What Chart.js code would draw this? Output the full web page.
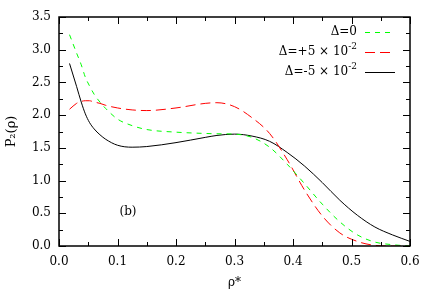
<!DOCTYPE html>
<html>
<head>
<meta charset="utf-8">
<script src="https://cdn.jsdelivr.net/npm/chart.js@4.4.0/dist/chart.umd.min.js"></script>
<style>
  html, body { margin: 0; padding: 0; background: #fff; }
  #wrap { width: 436px; height: 305px; }
</style>
</head>
<body>
<div id="wrap"><canvas id="chart"></canvas></div>
<script>
// rho* grid shared by the three curves
const rho = [0.018, 0.03, 0.038, 0.045, 0.052, 0.06, 0.07, 0.08, 0.1, 0.125, 0.15, 0.2, 0.25, 0.27, 0.3, 0.33, 0.36, 0.39, 0.42, 0.45, 0.48, 0.51, 0.54, 0.57, 0.6];

const p2Zero  = [3.23, 2.95, 2.77, 2.58, 2.45, 2.32, 2.20, 2.10, 1.94, 1.84, 1.78, 1.74, 1.72, 1.715, 1.71, 1.66, 1.51, 1.25, 0.95, 0.64, 0.37, 0.17, 0.06, 0.02, 0.00];
const p2Plus  = [2.09, 2.18, 2.21, 2.22, 2.22, 2.20, 2.18, 2.15, 2.11, 2.08, 2.07, 2.11, 2.18, 2.19, 2.13, 1.96, 1.72, 1.32, 0.85, 0.46, 0.20, 0.07, 0.01, 0.00, 0.00];
const p2Minus = [2.79, 2.44, 2.20, 2.02, 1.89, 1.79, 1.70, 1.63, 1.54, 1.51, 1.52, 1.58, 1.66, 1.69, 1.71, 1.68, 1.60, 1.43, 1.22, 0.97, 0.70, 0.47, 0.29, 0.17, 0.07];

const legendBase = ['\u0394=0', '\u0394=+5 \u00d7 10', '\u0394=-5 \u00d7 10'];
const legendExp  = ['', '-2', '-2'];
const legendLen  = [30, 25, 30];

const FONT = '"DejaVu Serif", "Liberation Serif", serif';

function pts(ys) {
    return rho.map((x, i) => ({x: x, y: ys[i]}));
}

// frame, inward ticks on all four sides, legend with exponents, "(b)" tag
const decor = {
    id: 'decor',
    afterDraw(chart) {
        const ctx = chart.ctx;
        const a = chart.chartArea;
        const xs = chart.scales.x, ys = chart.scales.y;
        ctx.save();
        ctx.strokeStyle = '#000';
        ctx.lineWidth = 1.5;
        ctx.strokeRect(a.left, a.top, a.right - a.left, a.bottom - a.top);

        ctx.lineWidth = 1;
        ctx.beginPath();
        for (let k = 0; k <= 12; k++) {
            const px = Math.round(xs.getPixelForValue(k * 0.05)) + 0.5;
            const len = (k % 2 === 0) ? 7 : 4;
            ctx.moveTo(px, a.bottom); ctx.lineTo(px, a.bottom - len);
            ctx.moveTo(px, a.top); ctx.lineTo(px, a.top + len);
        }
        for (let k = 0; k <= 14; k++) {
            const py = Math.round(ys.getPixelForValue(k * 0.25)) + 0.5;
            const len = (k % 2 === 0) ? 7 : 4;
            ctx.moveTo(a.left, py); ctx.lineTo(a.left + len, py);
            ctx.moveTo(a.right, py); ctx.lineTo(a.right - len, py);
        }
        ctx.stroke();

        // legend
        const rightText = 357, lineX0 = 365;
        const rowY = [32, 52, 72];
        ctx.fillStyle = '#000';
        ctx.textBaseline = 'middle';
        chart.data.datasets.forEach((ds, i) => {
            const y = rowY[i];
            const expFont = '9px ' + FONT;
            let expW = 0;
            if (legendExp[i]) {
                ctx.font = expFont;
                expW = ctx.measureText(legendExp[i]).width;
            }
            ctx.font = '12px ' + FONT;
            ctx.textAlign = 'right';
            ctx.fillText(legendBase[i], rightText - expW, y);
            if (legendExp[i]) {
                ctx.font = expFont;
                ctx.textAlign = 'left';
                ctx.fillText(legendExp[i], rightText - expW, y - 5);
            }
            ctx.strokeStyle = ds.borderColor;
            ctx.lineWidth = 1;
            ctx.setLineDash(ds.borderDash || []);
            ctx.beginPath();
            ctx.moveTo(lineX0, y + 0.5); ctx.lineTo(lineX0 + legendLen[i], y + 0.5);
            ctx.stroke();
            ctx.setLineDash([]);
        });

        ctx.font = '12px ' + FONT;
        ctx.textAlign = 'center';
        ctx.fillStyle = '#000';
        ctx.fillText('(b)', xs.getPixelForValue(0.118), ys.getPixelForValue(0.52));
        ctx.restore();
    }
};

const chart = new Chart(document.getElementById('chart'), {
    type: 'line',
    data: {
        datasets: [
            {label: legendBase[0], data: pts(p2Zero), borderColor: 'rgb(0,255,0)', borderDash: [5, 5], borderWidth: 1},
            {label: legendBase[1] + legendExp[1], data: pts(p2Plus), borderColor: 'rgb(255,0,0)', borderDash: [10, 5], borderWidth: 1},
            {label: legendBase[2] + legendExp[2], data: pts(p2Minus), borderColor: 'rgb(0,0,0)', borderWidth: 1}
        ]
    },
    options: {
        responsive: true,
        maintainAspectRatio: false,
        animation: false,
        layout: {padding: {top: 17, right: 26, left: 0, bottom: 0}},
        elements: {
            point: {radius: 0},
            line: {tension: 0.4, cubicInterpolationMode: 'monotone'}
        },
        plugins: {legend: {display: false}, tooltip: {enabled: false}},
        scales: {
            x: {
                type: 'linear', min: 0, max: 0.6,
                afterFit: s => { s.height = 59; },
                grid: {display: false, drawTicks: false},
                border: {display: false},
                ticks: {stepSize: 0.1, padding: 9, color: '#000', font: {family: FONT, size: 12},
                        callback: v => v.toFixed(1), maxRotation: 0},
                title: {display: true, text: 'ρ*', color: '#000', font: {family: FONT, size: 12},
                        padding: {top: 0, bottom: 15}}
            },
            y: {
                min: 0, max: 3.5,
                afterFit: s => { s.width = 59; },
                grid: {display: false, drawTicks: false},
                border: {display: false},
                ticks: {stepSize: 0.5, padding: 8, color: '#000', font: {family: FONT, size: 12},
                        callback: v => v.toFixed(1)},
                title: {display: true, text: 'P₂(ρ)', color: '#000', font: {family: FONT, size: 13},
                        padding: {top: 4, bottom: 4}}
            }
        }
    },
    plugins: [decor]
});
</script>
</body>
</html>
